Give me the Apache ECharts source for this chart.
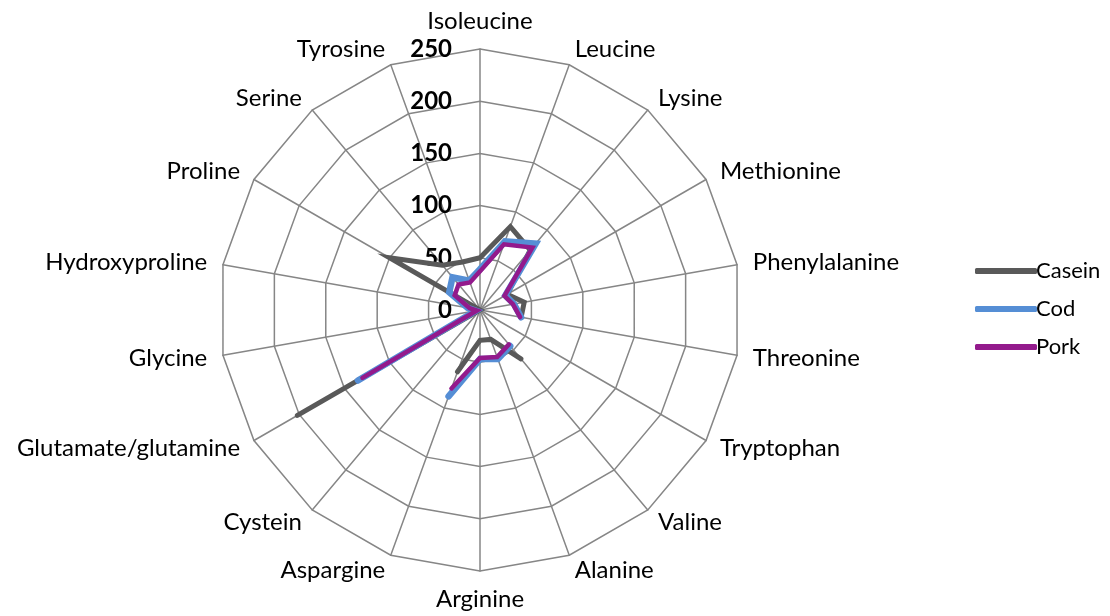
<!DOCTYPE html>
<html>
<head>
<meta charset="utf-8">
<script src="https://cdn.jsdelivr.net/npm/echarts@6/dist/echarts.min.js"></script>
<style>
  html, body { margin: 0; padding: 0; background: #fff; }
  #chart { width: 1110px; height: 616px; }
</style>
</head>
<body>
<div id="chart"></div>
<script>
  // amino acids, clockwise from the top
  var aminoAcids = ['Isoleucine', 'Leucine', 'Lysine', 'Methionine', 'Phenylalanine', 'Threonine',
    'Tryptophan', 'Valine', 'Alanine', 'Arginine', 'Aspargine', 'Cystein', 'Glutamate/glutamine',
    'Glycine', 'Hydroxyproline', 'Proline', 'Serine', 'Tyrosine'];

  // null = no value (line is broken there)
  var casein = [50, 85, 75, 30, 43, 40, null, 61, 30, 29, 63, null, 202, 0, 0, 100, 56, 49];
  var cod = [39, 70, 83, 28, 33, 40, null, 45, 50, 47, 88, null, 135, 4, 12, 34, 41, 30];
  var pork = [37, 67, 78, 27, 32, 39, null, 43, 48, 46, 80, null, 130, 3, 10, 28, 32, 28];

  var scaleMax = 250;
  var scaleSplit = 5;

  var font = 'Lato, "Open Sans", sans-serif';
  var center = [480, 310];
  var radius = 261;

  // radar lays indicators out counter-clockwise, so feed them in reverse after the first
  var radarOrder = [aminoAcids[0]].concat(aminoAcids.slice(1).reverse());

  // polar line wants [radius, angleIndex]; repeat the first point to close the loop
  function toPolar(values) {
    var pts = values.map(function (v, i) { return [v, i]; });
    pts.push([values[0], values.length]);
    return pts;
  }

  var chart = echarts.init(document.getElementById('chart'));

  chart.setOption({
    animation: false,
    textStyle: { fontFamily: font },
    legend: {
      orient: 'vertical',
      left: 970,
      top: 255,
      itemWidth: 62,
      itemHeight: 6,
      itemGap: 16,
      icon: 'roundRect',
      textStyle: { fontSize: 22, color: '#000', fontFamily: font, padding: [0, 0, 0, -6] },
      data: ['Casein', 'Cod', 'Pork']
    },
    radar: {
      center: center,
      radius: radius,
      startAngle: 90,
      shape: 'polygon',
      splitNumber: scaleSplit,
      axisName: { color: '#000', fontSize: 24, fontFamily: font },
      nameGap: 16,
      splitArea: { show: false },
      splitLine: { lineStyle: { color: '#868686', width: 1.5 } },
      axisLine: { lineStyle: { color: '#868686', width: 1.5 } },
      axisTick: { show: false },
      axisLabel: { show: false },
      indicator: radarOrder.map(function (name, i) {
        var ind = { name: name, min: 0, max: scaleMax };
        if (i === 0) {
          ind.axisLabel = {
            show: true, color: '#000', fontSize: 24, fontWeight: 'bold',
            fontFamily: font, margin: 28, showMinLabel: true, showMaxLabel: true
          };
        }
        return ind;
      })
    },
    polar: { center: center, radius: radius },
    angleAxis: {
      type: 'value', min: 0, max: aminoAcids.length, startAngle: 90, clockwise: true,
      show: false, splitLine: { show: false }
    },
    radiusAxis: {
      type: 'value', min: 0, max: scaleMax, show: false, splitLine: { show: false }
    },
    series: [
      {
        name: 'Casein', type: 'line', coordinateSystem: 'polar', data: toPolar(casein),
        showSymbol: false, connectNulls: false, color: '#595959',
        lineStyle: { width: 5, color: '#595959', cap: 'round', join: 'miter' }
      },
      {
        name: 'Cod', type: 'line', coordinateSystem: 'polar', data: toPolar(cod),
        showSymbol: false, connectNulls: false, color: '#558ed5',
        lineStyle: { width: 6.5, color: '#558ed5', cap: 'round', join: 'miter' }
      },
      {
        name: 'Pork', type: 'line', coordinateSystem: 'polar', data: toPolar(pork),
        showSymbol: false, connectNulls: false, color: '#931a8c',
        lineStyle: { width: 4.5, color: '#931a8c', cap: 'round', join: 'miter' }
      }
    ]
  });
</script>
</body>
</html>
